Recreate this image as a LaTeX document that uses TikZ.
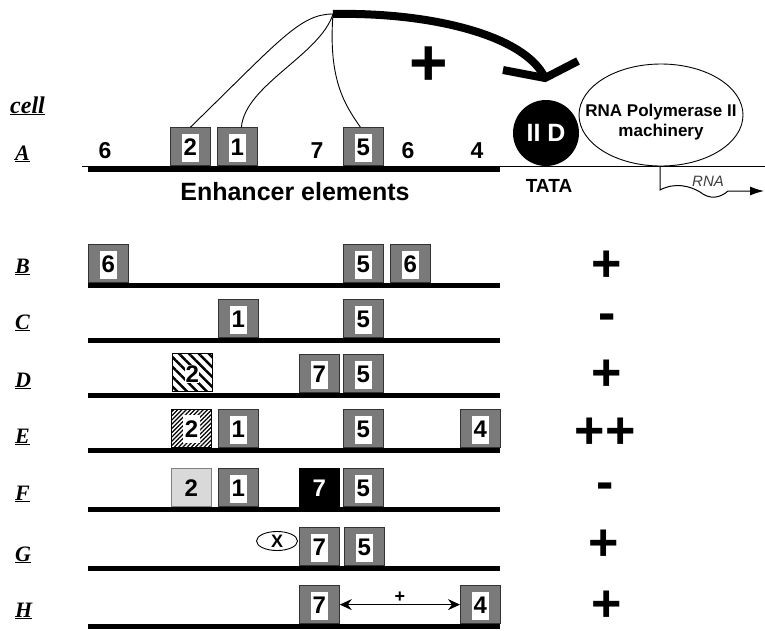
\documentclass[tikz,border=0pt]{standalone}
\usepackage{fontspec}
\setmainfont{Liberation Serif}
\setsansfont{Liberation Sans}
\usetikzlibrary{arrows.meta,patterns.meta,shapes.geometric}
\tikzset{
  ebox/.style={draw=black!80, line width=0.8pt, fill=black!52, minimum width=40pt, minimum height=38pt, inner sep=0pt, anchor=south west},
  edig/.style={fill=white, minimum width=17pt, minimum height=28pt, inner sep=0pt, font=\fontsize{24}{24}\selectfont\sffamily\bfseries},
  dna/.style={line width=5pt},
  rowlab/.style={anchor=base west, inner sep=0pt, font=\fontsize{22}{22}\selectfont\bfseries\itshape},
  num/.style={anchor=base, inner sep=0pt, font=\fontsize{23}{23}\selectfont\sffamily\bfseries},
  res/.style={inner sep=0pt, font=\fontsize{52}{52}\selectfont\sffamily\bfseries},
  thinlink/.style={line width=0.9pt},
  bigarrow/.style={line width=8pt},
}
\newcommand\mybox[6]{\node[ebox,#5] (#1) at (#2,#3) {};\node[edig,#6] at ([yshift=-1pt]#1.center) {#4};}
\begin{document}
\begin{tikzpicture}[x=1pt,y=-1pt]
\fill[white] (0,0) rectangle (765,630);
\useasboundingbox (0,0) rectangle (765,630);
% row A
\draw[line width=1pt] (82,166) -- (765,166);
\draw[dna] (88,169) -- (500,169);
\mybox{a2}{170}{166}{2}{}{}
\mybox{a1}{217}{166}{1}{}{}
\mybox{a5}{343}{166}{5}{}{}
\node[num] (n6) at (105,158) {6};
\node[num] (n7) at (317,158) {7};
\node[num] (n6b) at (408,158) {6};
\node[num] (n4) at (477,158) {4};
\node[anchor=base, inner sep=0pt, font=\fontsize{25}{25}\selectfont\sffamily\bfseries] (enh) at (295,200) {Enhancer elements};
% labels
\node[rowlab, font=\fontsize{24}{24}\selectfont\bfseries\itshape] (lcell) at (10,113) {\underline{cell}};
\node[rowlab] (lA) at (15,160) {\underline{A}};
\node[rowlab] (lB) at (15,273) {\underline{B}};
\node[rowlab] (lC) at (15,329) {\underline{C}};
\node[rowlab] (lD) at (15,387) {\underline{D}};
\node[rowlab] (lE) at (15,443) {\underline{E}};
\node[rowlab] (lF) at (15,500) {\underline{F}};
\node[rowlab] (lG) at (15,561) {\underline{G}};
\node[rowlab] (lH) at (15,617) {\underline{H}};
% links
\coordinate (conv) at (333,14);
\draw[thinlink] (conv) .. controls (300,14) and (280,40) .. (a2.north);
\draw[thinlink] (conv) .. controls (320,55) and (245,85) .. ([xshift=4pt]a1.north);
\draw[thinlink] (conv) .. controls (328,80) and (345,105) .. ([xshift=-3pt]a5.north);
\coordinate (tip) at (545,78);
\draw[bigarrow] (conv) .. controls (430,12) and (525,35) .. (tip);
\draw[bigarrow, line join=miter] (503,70) -- (tip) -- (578,61);
\node[inner sep=0pt, font=\fontsize{66}{66}\selectfont\sffamily\bfseries] (bigplus) at (429,66) {+};
% promoter
\node[circle, fill=black, minimum size=66pt, inner sep=0pt, text=white, font=\fontsize{25}{25}\selectfont\sffamily\bfseries] (iid) at (546,133) {II D};
\node[ellipse, draw, line width=0.9pt, minimum width=164pt, minimum height=102pt, inner sep=0pt] (pol) at (661,115) {};
\node[align=center, inner sep=0pt, font=\fontsize{17}{20}\selectfont\sffamily\bfseries] (poltxt) at (661,122) {RNA Polymerase II\\machinery};
\node[anchor=base, inner sep=0pt, font=\fontsize{19}{19}\selectfont\sffamily\bfseries] (tata) at (549,192) {TATA};
\coordinate (rnas) at (660,166);
\coordinate (rnae) at (764,191);
\draw[line width=1pt, -{Latex[length=14pt,width=9pt]}] (rnas) -- (660,190) .. controls (675,182) and (690,186) .. (700,192) .. controls (710,200) and (720,198) .. (728,191) -- (rnae);
\node[inner sep=0pt, text=black!75, font=\fontsize{15}{15}\selectfont\sffamily\itshape] (rna) at (708,181) {RNA};
% row B
\draw[dna] (88,285.5) -- (500,285.5);
\mybox{b6a}{88}{283}{6}{}{}
\mybox{b5}{343}{283}{5}{}{}
\mybox{b6b}{390}{283}{6}{}{}
% row C
\draw[dna] (88,340.5) -- (500,340.5);
\mybox{c1}{218}{338}{1}{}{}
\mybox{c5}{343}{338}{5}{}{}
% row D
\draw[dna] (88,395.5) -- (500,395.5);
\mybox{d2}{171}{393}{2}{fill=none, draw=black, pattern={Lines[angle=-45,distance=7pt,line width=2.5pt]}}{minimum width=0pt, minimum height=0pt, inner sep=0.5pt}
\mybox{d7}{299}{393}{7}{}{}
\mybox{d5}{343}{393}{5}{}{}
% row E
\draw[dna] (88,450.5) -- (500,450.5);
\mybox{e2}{171}{448}{2}{fill=none, draw=black, pattern={Lines[angle=45,distance=3pt,line width=1.3pt]}}{}
\mybox{e1}{218}{448}{1}{}{}
\mybox{e5}{343}{448}{5}{}{}
\mybox{e4}{460}{448}{4}{}{}
% row F
\draw[dna] (88,509.5) -- (500,509.5);
\mybox{f2}{171}{507}{2}{fill=black!15, draw=black!50}{fill=none}
\mybox{f1}{218}{507}{1}{}{}
\mybox{f7}{299}{507}{7}{fill=black, draw=black}{fill=none, text=white}
\mybox{f5}{343}{507}{5}{}{}
% row G
\draw[dna] (88,568.5) -- (500,568.5);
\mybox{g7}{299}{566}{7}{}{}
\mybox{g5}{344}{566}{5}{}{}
\node[ellipse, draw, line width=0.9pt, minimum width=41pt, minimum height=19pt, inner sep=0pt, font=\fontsize{18}{18}\selectfont\sffamily\bfseries] (gx) at (277,541) {X};
% row H
\draw[dna] (88,626.5) -- (500,626.5);
\mybox{h7}{299}{624}{7}{}{}
\mybox{h4}{460}{624}{4}{}{}
\draw[line width=1.2pt, {Stealth[length=12pt,width=11pt,inset=4pt]}-{Stealth[length=12pt,width=11pt,inset=4pt]}] (h7.east) -- node[above=2pt, inner sep=0pt, font=\fontsize{18}{18}\selectfont\sffamily\bfseries] (hplus) {+} (h4.west);
% results
\node[res] (rB) at (607,266) {+};
\node[res, anchor=base] (rC) at (607,330) {-};
\node[res] (rD) at (607,375) {+};
\node[res] (rE) at (605,433) {++};
\node[res, anchor=base] (rF) at (605,499) {-};
\node[res] (rG) at (604,545) {+};
\node[res] (rH) at (607,606) {+};
\end{tikzpicture}
\end{document}
